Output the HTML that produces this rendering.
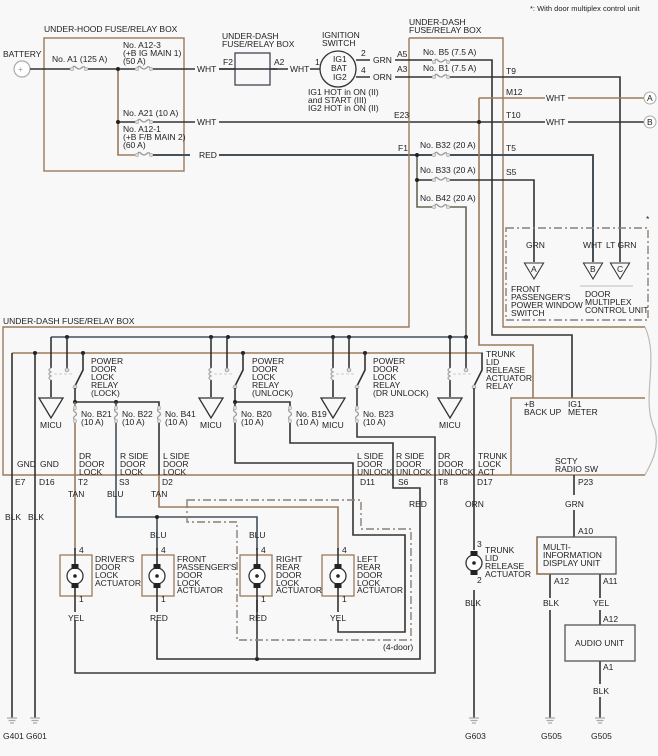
<!DOCTYPE html>
<html><head><meta charset="utf-8"><style>
html,body{margin:0;padding:0;background:#f8f8f8}
svg{display:block}
text{font-family:"Liberation Sans",sans-serif;font-size:8.5px;fill:#222}
.d{stroke:#333;stroke-width:1.6;fill:none}
.b{stroke:#9a7a5c;stroke-width:1.6;fill:none}
.g{stroke:#bbb;stroke-width:1.2;fill:none}
.dd{stroke:#8a7f75;stroke-width:1.4;fill:none;stroke-dasharray:8,3,2,3}
.bx{stroke:#9a7a5c;stroke-width:1.4;fill:none}
</style></head><body>
<svg width="658" height="756" viewBox="0 0 658 756" xmlns="http://www.w3.org/2000/svg">
<defs>
<g id="fz"><rect x="-9" y="-3" width="18" height="6" fill="#f8f8f8"/><path d="M-7,0 q1.5,-4 3.5,-2 q2,2 3.5,2 q1.5,0 3.5,-2 q2,-1 3.5,2" stroke="#999" stroke-width="1.3" fill="none"/><circle cx="-7" cy="0" r="1.7" fill="#ddd" stroke="#aaa" stroke-width="0.6"/><circle cx="7" cy="0" r="1.7" fill="#ddd" stroke="#aaa" stroke-width="0.6"/></g>
<g id="fv"><rect x="-3" y="-9" width="6" height="16" fill="#f8f8f8"/><path d="M0,-7 q-3,2 0,4 q3,2 0,4 q-3,2 0,4" stroke="#999" stroke-width="1.3" fill="none"/><circle cx="0" cy="-7" r="1.7" fill="#ddd" stroke="#aaa" stroke-width="0.6"/><circle cx="0" cy="6" r="1.7" fill="#ddd" stroke="#aaa" stroke-width="0.6"/></g>
<g id="gnd"><path d="M-5,0 h10 M-3.5,2.5 h7 M-2,5 h4" stroke="#aaa" stroke-width="1.2"/></g>
<g id="tri"><path d="M-12,0 L12,0 L0,20 Z" stroke="#333" stroke-width="1.3" fill="none"/></g>
<g id="mot"><circle r="8" fill="#fff" stroke="#333" stroke-width="1.3"/><circle r="1.8" fill="#222"/><rect x="-3.5" y="-12" width="7" height="5" fill="#222"/><rect x="-3.5" y="7" width="7" height="5" fill="#222"/></g>
</defs>

<text x="530" y="11" style="font-size:7.5px">*: With door multiplex control unit</text>

<text x="3" y="57">BATTERY</text>
<circle cx="22" cy="69" r="8" fill="#fff" stroke="#aaa" stroke-width="1.2"/><text x="18" y="72" style="fill:#999">+</text>
<text x="44" y="32">UNDER-HOOD FUSE/RELAY BOX</text>
<rect x="44" y="38" width="140" height="133" class="bx"/>
<path class="d" d="M30,69 H195 M219,69 H288 M310,69 H320"/>
<path class="b" d="M118,69 V155 H135"/>
<path class="d" d="M118,122 H195 M219,122 H650"/>
<path class="d" d="M153,155 H190 M219,155 H500" style="stroke:#44505a;stroke-width:2"/>
<circle cx="118" cy="69" r="2" fill="#222"/><circle cx="118" cy="122" r="2" fill="#222"/>
<use href="#fz" x="79" y="69"/><use href="#fz" x="144" y="69"/><use href="#fz" x="144" y="122"/><use href="#fz" x="144" y="155"/>
<text x="52" y="62">No. A1 (125 A)</text>
<text x="123" y="48">No. A12-3</text><text x="123" y="56">(+B IG MAIN 1)</text><text x="123" y="64">(50 A)</text>
<text x="123" y="116">No. A21 (10 A)</text>
<text x="123" y="132">No. A12-1</text><text x="123" y="140">(+B F/B MAIN 2)</text><text x="123" y="148">(60 A)</text>
<text x="197" y="72">WHT</text><text x="197" y="125">WHT</text><text x="199" y="158">RED</text>

<text x="222" y="39">UNDER-DASH</text><text x="222" y="47">FUSE/RELAY BOX</text>
<rect x="235" y="53" width="35" height="32" fill="#f8f8f8" stroke="#445" stroke-width="1.3"/>
<path class="d" d="M219,69 H277"/>
<text x="223" y="65">F2</text><text x="274" y="65">A2</text><text x="290" y="72">WHT</text>

<text x="322" y="38">IGNITION</text><text x="322" y="46">SWITCH</text>
<circle cx="338" cy="69" r="18" fill="#f8f8f8" stroke="#333" stroke-width="1.3"/>
<text x="333" y="62">IG1</text><text x="331" y="71">BAT</text><text x="333" y="80">IG2</text>
<text x="315" y="65">1</text><text x="361" y="56">2</text><text x="361" y="73">4</text>
<path class="d" d="M356,60 H370 M356,77 H370"/>
<text x="373" y="63">GRN</text><text x="373" y="80">ORN</text>
<text x="308" y="95">IG1 HOT in ON (II)</text><text x="308" y="103">and START (III)</text><text x="308" y="111">IG2 HOT in ON (II)</text>

<text x="409" y="25">UNDER-DASH</text><text x="409" y="33">FUSE/RELAY BOX</text>
<path class="bx" d="M409,38 H503 V327 H645 M409,38 V327 H3 V475 H645"/>
<path class="g" d="M645,327 C660,360 640,400 655,430 C660,450 650,465 645,475"/>
<path class="d" d="M395,60 H492 V335 H572 V398"/>
<path class="d" d="M395,77 H620 V262"/>
<text x="397" y="57">A5</text><text x="397" y="72">A3</text>
<use href="#fz" x="441" y="62"/><use href="#fz" x="441" y="77"/>
<text x="423" y="55">No. B5 (7.5 A)</text><text x="423" y="71">No. B1 (7.5 A)</text>
<text x="506" y="74">T9</text><text x="506" y="95">M12</text><text x="506" y="118">T10</text><text x="394" y="118">E23</text>
<path class="b" d="M479,98 H545 M568,98 H644 M479,98 V345 H533 V398"/>
<circle cx="479" cy="122" r="2" fill="#222"/>
<circle cx="650" cy="98" r="6" fill="#fff" stroke="#aaa"/><text x="647" y="101">A</text>
<circle cx="650" cy="122" r="6" fill="#fff" stroke="#aaa"/><text x="647" y="125">B</text>
<rect x="545" y="93" width="23" height="35" fill="#f8f8f8"/>
<text x="546" y="101">WHT</text><text x="546" y="125">WHT</text>
<text x="398" y="151">F1</text>
<path class="d" d="M417,155 V207 H466 V337" style="stroke:#665"/>
<path class="d" d="M417,180 H534 V262"/>
<path class="d" d="M500,155 H593 V262" style="stroke:#44505a;stroke-width:2"/>
<circle cx="417" cy="155" r="2" fill="#222"/><circle cx="417" cy="180" r="2" fill="#222"/>
<use href="#fz" x="441" y="155"/><use href="#fz" x="441" y="180"/><use href="#fz" x="441" y="207"/>
<text x="420" y="148">No. B32 (20 A)</text><text x="420" y="173">No. B33 (20 A)</text><text x="420" y="201">No. B42 (20 A)</text>
<text x="506" y="151">T5</text><text x="506" y="175">S5</text>

<rect x="506" y="228" width="142" height="92" class="dd"/>
<text x="646" y="222">*</text>
<text x="526" y="248">GRN</text><text x="583" y="248">WHT</text><text x="606" y="248">LT GRN</text>
<g transform="translate(534,263)"><use href="#tri" transform="scale(0.8)"/></g>
<g transform="translate(593,263)"><use href="#tri" transform="scale(0.8)"/></g>
<g transform="translate(620,263)"><use href="#tri" transform="scale(0.8)"/></g>
<text x="531" y="272">A</text><text x="590" y="272">B</text><text x="617" y="272">C</text>
<text x="511" y="292">FRONT</text><text x="511" y="300">PASSENGER'S</text><text x="511" y="308">POWER WINDOW</text><text x="511" y="316">SWITCH</text>
<path d="M580,286 H633" stroke="#bbb" stroke-width="1"/>
<text x="585" y="297">DOOR</text><text x="585" y="305">MULTIPLEX</text><text x="585" y="313">CONTROL UNIT</text>

<text x="3" y="324">UNDER-DASH FUSE/RELAY BOX</text>
<path class="d" d="M51,337 H466" style="stroke:#44505a"/>
<path class="b" d="M12,353 H483"/>
<path class="d" d="M12,353 V718 M35,353 V718" style="stroke:#333"/>
<g fill="#222"><circle cx="35" cy="353" r="2"/><circle cx="83" cy="353" r="2"/><circle cx="243" cy="353" r="2"/><circle cx="365" cy="353" r="2"/>
<circle cx="67" cy="337" r="2"/><circle cx="211" cy="337" r="2"/><circle cx="228" cy="337" r="2"/><circle cx="333" cy="337" r="2"/><circle cx="349" cy="337" r="2"/><circle cx="450" cy="337" r="2"/><circle cx="466" cy="337" r="2"/></g>

<g id="rl">
<path class="d" d="M51,337 V368 M51,380 V397"/>
<path d="M51,368 q-4,2 0,4 q-4,2 0,4 q-4,2 0,4" stroke="#aaa" stroke-width="1.3" fill="none"/>
<path d="M54,374 H72" stroke="#ccc" stroke-dasharray="3,2"/>
<path class="d" d="M67,337 V368 M83,353 V370 L75,386"/>
<circle cx="67" cy="370" r="1.8" fill="#ddd" stroke="#aaa"/><circle cx="75" cy="387" r="1.8" fill="#ddd" stroke="#aaa"/>
<use href="#tri" x="51" y="398"/>
<text x="40" y="428">MICU</text>
</g>
<use href="#rl" x="160"/>
<use href="#rl" x="282"/>
<use href="#rl" x="399"/>
<text x="91" y="364">POWER</text><text x="91" y="372">DOOR</text><text x="91" y="380">LOCK</text><text x="91" y="388">RELAY</text><text x="91" y="396">(LOCK)</text>
<text x="252" y="364">POWER</text><text x="252" y="372">DOOR</text><text x="252" y="380">LOCK</text><text x="252" y="388">RELAY</text><text x="252" y="396">(UNLOCK)</text>
<text x="373" y="364">POWER</text><text x="373" y="372">DOOR</text><text x="373" y="380">LOCK</text><text x="373" y="388">RELAY</text><text x="373" y="396">(DR UNLOCK)</text>
<text x="486" y="357">TRUNK</text><text x="486" y="365">LID</text><text x="486" y="373">RELEASE</text><text x="486" y="381">ACTUATOR</text><text x="486" y="389">RELAY</text>

<path class="d" d="M75,388 V402 H159 V475"/><circle cx="75" cy="402" r="2" fill="#222"/><circle cx="116" cy="402" r="2" fill="#222"/>
<path class="b" d="M75,402 V550"/><path class="d" d="M116,402 V517 H257 V550 M157,517 V550" style="stroke:#44505a"/>
<circle cx="157" cy="517" r="2" fill="#222"/>
<path class="b" d="M159,475 V507 H338 V550"/>
<use href="#fv" x="75" y="415"/><use href="#fv" x="116" y="415"/><use href="#fv" x="159" y="415"/>
<text x="81" y="417">No. B21</text><text x="81" y="425">(10 A)</text>
<text x="122" y="417">No. B22</text><text x="122" y="425">(10 A)</text>
<text x="165" y="417">No. B41</text><text x="165" y="425">(10 A)</text>
<path class="d" d="M235,388 V402 H290 V443 H393 V488 H420 V659 H157 V620"/>
<circle cx="235" cy="402" r="2" fill="#222"/>
<path class="d" d="M235,402 V463 H353 V535 H405 V632 H338 V620"/>
<use href="#fv" x="235" y="415"/><use href="#fv" x="290" y="415"/>
<text x="241" y="417">No. B20</text><text x="241" y="425">(10 A)</text>
<text x="296" y="417">No. B19</text><text x="296" y="425">(10 A)</text>
<path class="d" d="M357,388 V437 H435 V673 H75 V620" style="stroke:#3a3a3a"/>
<use href="#fv" x="357" y="415"/>
<text x="363" y="417">No. B23</text><text x="363" y="425">(10 A)</text>
<path class="d" d="M474,388 V550 M474,590 V718"/>
<circle cx="257" cy="659" r="2" fill="#222"/>
<path class="d" d="M257,600 V659"/>

<path class="dd" d="M187,500 H361 V529 H411 V640 H237 V522 H187 Z"/>
<text x="383" y="650">(4-door)</text>

<path class="bx" d="M511,475 V398 H645"/>
<text x="524" y="407">+B</text><text x="524" y="415">BACK UP</text>
<text x="568" y="407">IG1</text><text x="568" y="415">METER</text>
<text x="555" y="464">SCTY</text><text x="555" y="472">RADIO SW</text>

<text x="17" y="467">GND</text><text x="40" y="467">GND</text>
<text x="79" y="459">DR</text><text x="79" y="467">DOOR</text><text x="79" y="475">LOCK</text>
<text x="120" y="459">R SIDE</text><text x="120" y="467">DOOR</text><text x="120" y="475">LOCK</text>
<text x="163" y="459">L SIDE</text><text x="163" y="467">DOOR</text><text x="163" y="475">LOCK</text>
<text x="357" y="459">L SIDE</text><text x="357" y="467">DOOR</text><text x="357" y="475">UNLOCK</text>
<text x="396" y="459">R SIDE</text><text x="396" y="467">DOOR</text><text x="396" y="475">UNLOCK</text>
<text x="438" y="459">DR</text><text x="438" y="467">DOOR</text><text x="438" y="475">UNLOCK</text>
<text x="478" y="459">TRUNK</text><text x="478" y="467">LOCK</text><text x="478" y="475">ACT</text>
<text x="15" y="485">E7</text><text x="39" y="485">D16</text><text x="78" y="485">T2</text><text x="119" y="485">S3</text><text x="162" y="485">D2</text>
<text x="360" y="485">D11</text><text x="398" y="485">S6</text><text x="438" y="485">T8</text><text x="477" y="485">D17</text><text x="578" y="485">P23</text>
<g style="font-size:8px">
<text x="5" y="520">BLK</text><text x="28" y="520">BLK</text><text x="68" y="497">TAN</text><text x="107" y="497">BLU</text><text x="151" y="497">TAN</text>
<text x="409" y="507">RED</text><text x="465" y="507">ORN</text><text x="565" y="507">GRN</text>
<text x="150" y="538">BLU</text><text x="249" y="538">BLU</text>
<text x="68" y="621">YEL</text><text x="150" y="621">RED</text><text x="249" y="621">RED</text><text x="330" y="621">YEL</text>
<text x="465" y="606">BLK</text><text x="543" y="606">BLK</text><text x="593" y="606">YEL</text><text x="593" y="694">BLK</text>
</g>

<g fill="#f8f8f8" stroke="#9a7a5c" stroke-width="1.3">
<rect x="60" y="555" width="32" height="41"/><rect x="142" y="555" width="32" height="41"/><rect x="240" y="555" width="32" height="41"/><rect x="322" y="555" width="32" height="41"/></g>
<path class="d" d="M75,548 V603 M157,548 V603 M257,548 V603 M338,548 V603"/>
<use href="#mot" x="75" y="576"/><use href="#mot" x="157" y="576"/><use href="#mot" x="257" y="576"/><use href="#mot" x="338" y="576"/>
<text x="79" y="553">4</text><text x="161" y="553">4</text><text x="261" y="553">4</text><text x="342" y="553">4</text>
<text x="79" y="602">1</text><text x="161" y="602">1</text><text x="261" y="602">1</text><text x="342" y="602">1</text>
<text x="95" y="562">DRIVER'S</text><text x="95" y="570">DOOR</text><text x="95" y="578">LOCK</text><text x="95" y="586">ACTUATOR</text>
<text x="177" y="562">FRONT</text><text x="177" y="570">PASSENGER'S</text><text x="177" y="578">DOOR</text><text x="177" y="586">LOCK</text><text x="177" y="593">ACTUATOR</text>
<text x="276" y="562">RIGHT</text><text x="276" y="570">REAR</text><text x="276" y="578">DOOR</text><text x="276" y="586">LOCK</text><text x="276" y="593">ACTUATOR</text>
<text x="357" y="562">LEFT</text><text x="357" y="570">REAR</text><text x="357" y="578">DOOR</text><text x="357" y="586">LOCK</text><text x="357" y="593">ACTUATOR</text>
<path class="d" d="M75,603 V612 M157,603 V612 M257,603 V612 M338,603 V612"/>

<use href="#mot" x="474" y="563"/>
<text x="477" y="547">3</text><text x="477" y="583">2</text>
<text x="485" y="553">TRUNK</text><text x="485" y="561">LID</text><text x="485" y="569">RELEASE</text><text x="485" y="577">ACTUATOR</text>

<path class="d" d="M574,475 V495 M574,510 V537 M550,574 V598 M550,610 V718 M600,574 V598 M600,610 V625 M600,661 V684 M600,697 V718"/>
<rect x="537" y="537" width="79" height="37" fill="#f8f8f8" stroke="#555" stroke-width="1.3"/>
<path d="M537,537 V574 H550" stroke="#9a7a5c" stroke-width="1.5" fill="none"/>
<text x="578" y="534">A10</text>
<text x="543" y="550">MULTI-</text><text x="543" y="558">INFORMATION</text><text x="543" y="566">DISPLAY UNIT</text>
<text x="554" y="584">A12</text><text x="603" y="584">A11</text>
<rect x="565" y="625" width="70" height="36" fill="#f8f8f8" stroke="#555" stroke-width="1.3"/>
<text x="603" y="622">A12</text><text x="575" y="646">AUDIO UNIT</text><text x="603" y="670">A1</text>

<use href="#gnd" x="12" y="718"/><use href="#gnd" x="35" y="718"/><use href="#gnd" x="474" y="718"/><use href="#gnd" x="550" y="718"/><use href="#gnd" x="600" y="718"/>
<g style="font-size:8px"><text x="3" y="739">G401</text><text x="26" y="739">G601</text><text x="465" y="739">G603</text><text x="541" y="739">G505</text><text x="591" y="739">G505</text></g>
</svg>
</body></html>
